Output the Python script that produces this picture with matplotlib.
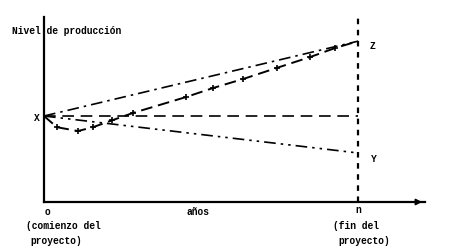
import numpy as np
import matplotlib
matplotlib.use("Agg")
import matplotlib.pyplot as plt

# niveles de producción (X = 100) en función de los años (n = 10)
n = 10
nivel_x = 100
nivel_z = 187
nivel_y = 57

# curva con cruces: baja al principio y sube hasta Z
anos_cruz = [0, 0.41, 1.08, 1.56, 2.17, 2.83, 4.52, 5.38, 6.34, 7.42, 8.47, 9.27, 10]
nivel_cruz = [100, 87, 82.5, 87, 95, 103.5, 122, 132.5, 143, 156, 168.5, 179, 187]

W, H = 452, 251
fig = plt.figure(figsize=(W / 100, H / 100), dpi=100)
ax = fig.add_axes([44 / W, 48 / H, 381 / W, 185 / H])
ax.set_xlim(0, 381 / 31.4)
ax.set_ylim(0, 185 / 0.86)

for s in ["top", "right"]:
    ax.spines[s].set_visible(False)
ax.spines["left"].set_linewidth(1.6)
ax.spines["bottom"].set_linewidth(1.6)
ax.set_xticks([])
ax.set_yticks([])

# flecha al final del eje de los años
ax.annotate("", xy=(1.0, 0), xytext=(0.97, 0), xycoords="axes fraction",
            arrowprops=dict(arrowstyle="-|>", color="black", lw=1.2,
                            mutation_scale=9), annotation_clip=False)

# línea vertical en n (fin del proyecto)
ax.plot([n, n], [0, 185 / 0.86], color="black", lw=1.6, ls=(0, (2.5, 2.5)))

# X -> Z recta (raya-punto)
ax.plot([0, n], [nivel_x, nivel_z], color="black", lw=1.2, ls=(0, (7, 3, 1.5, 3)))
# X -> X horizontal (rayas)
ax.plot([0, n], [nivel_x, nivel_x], color="black", lw=1.2, ls=(0, (7, 4)))
# X -> Y (raya-punto-punto)
ax.plot([0, n], [nivel_x, nivel_y], color="black", lw=1.2, ls=(0, (7, 3, 1.5, 3, 1.5, 3)))
# curva con cruces
ax.plot(anos_cruz, nivel_cruz, color="black", lw=1.4, ls=(0, (6, 3)))
ax.plot(anos_cruz[1:-1], nivel_cruz[1:-1], "+", color="black", ms=4, mew=1.2)

fam = ["Liberation Mono", "DejaVu Sans Mono"]
def t(px, py, s, ha="left"):
    fig.text(px / W, 1 - py / H, s, ha=ha, va="center", fontsize=6.9,
             family=fam, fontweight="bold")

t(12, 31, "Nivel de producción")
t(34, 118, "X")
t(370, 46, "Z")
t(371, 159, "Y")
t(48, 212, "o", ha="center")
t(26, 226, "(comienzo del")
t(30, 241, "proyecto)")
t(198, 212, "años", ha="center")
t(358, 210, "n", ha="center")
t(333, 226, "(fin del")
t(338, 241, "proyecto)")

fig.savefig("out.png", dpi=100)
